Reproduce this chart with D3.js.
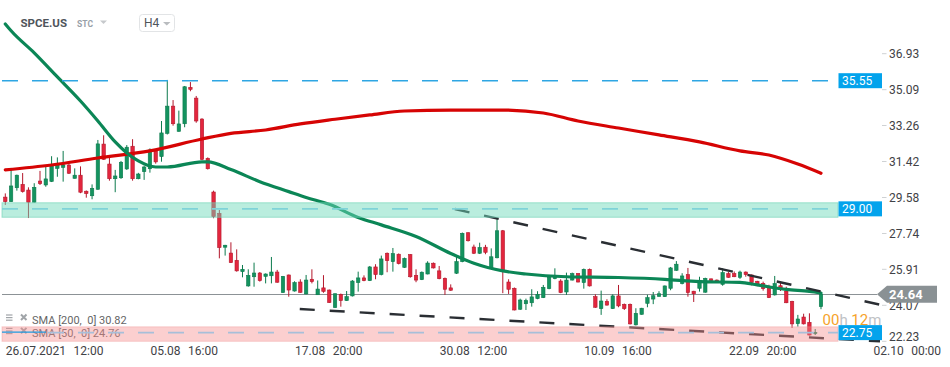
<!DOCTYPE html>
<html><head><meta charset="utf-8">
<script src="https://cdn.jsdelivr.net/npm/d3@7"></script>
<style>
html,body{margin:0;padding:0;background:#fff;}
svg{display:block;font-family:Roboto,"Noto Sans",sans-serif;}
</style></head><body>
<svg id="chart" width="950" height="367"></svg>
<script>
const symbol = "SPCE.US";
const opens = [29.60,29.37,30.08,30.25,29.96,29.34,30.42,30.22,30.40,31.07,31.12,31.24,30.56,30.72,29.90,29.67,30.00,32.31,31.29,30.54,30.59,31.04,32.20,30.54,30.90,31.05,31.96,31.67,32.86,34.25,32.96,33.35,35.21,34.66,33.59,31.58,29.86,28.77,27.04,26.74,26.37,25.79,25.06,25.53,25.72,25.55,25.58,25.77,24.72,25.62,24.80,25.26,24.65,25.40,24.61,24.96,24.85,23.96,24.63,24.31,24.55,25.23,25.47,25.33,26.03,25.64,26.73,26.30,26.68,26.01,26.66,25.60,25.38,25.67,26.22,25.83,25.45,24.96,25.71,26.30,27.78,27.05,26.73,27.04,25.99,26.50,27.88,25.26,24.94,23.87,24.15,24.20,24.41,24.46,24.92,25.43,25.31,24.75,25.36,25.69,25.23,25.91,24.51,23.90,24.27,23.90,24.55,24.12,24.12,23.07,23.61,24.17,24.39,24.53,24.51,24.94,25.86,25.18,25.64,24.79,24.94,24.74,25.42,25.36,25.14,25.69,25.69,25.50,25.77,25.62,25.30,25.19,25.04,24.60,25.07,24.80,24.27,23.13,23.47,23.20,22.68,24.00];
const highs = [29.79,31.09,30.75,30.83,30.10,30.31,30.94,31.19,31.69,31.63,31.96,31.33,31.07,31.17,29.94,30.25,32.52,32.76,31.63,30.99,31.45,32.26,32.56,30.84,31.21,32.09,32.06,33.49,35.59,34.56,34.02,35.28,35.48,34.77,33.63,31.63,29.93,28.94,27.16,27.29,26.93,26.13,25.91,26.25,25.77,25.70,26.54,25.88,25.57,25.64,25.30,25.40,25.62,25.91,25.34,25.61,24.88,24.68,24.67,24.80,25.36,25.79,25.60,26.08,26.17,26.61,26.77,27.00,26.72,26.51,26.69,25.91,25.80,26.32,26.26,26.08,25.49,25.14,26.64,27.79,27.80,27.17,27.27,27.16,26.98,28.52,27.92,25.40,24.98,24.41,24.41,24.89,24.79,25.11,25.62,25.96,25.40,25.74,25.74,25.72,25.95,25.95,24.63,24.82,24.38,24.63,25.11,24.16,24.16,23.92,23.94,24.61,24.75,24.79,25.08,26.03,26.33,25.71,25.98,24.81,25.53,25.48,25.44,25.39,25.96,25.77,25.80,25.84,25.80,25.64,25.32,25.28,25.12,25.57,25.28,25.02,24.30,23.58,23.64,23.66,22.86,24.66];
const lows = [29.20,29.35,29.93,29.83,28.53,29.32,30.22,30.13,30.37,30.64,30.39,30.78,30.55,29.80,29.57,29.49,29.98,31.50,30.44,29.85,30.53,30.99,30.44,30.51,30.48,30.85,31.31,31.41,32.80,33.25,32.95,33.17,35.01,33.40,31.50,31.01,28.52,26.47,26.61,26.24,25.79,25.50,25.02,25.02,25.28,25.19,25.19,25.22,24.71,24.51,24.77,24.71,24.63,25.19,24.60,24.71,24.19,23.93,24.00,24.29,24.52,24.77,25.30,25.31,25.40,25.60,25.76,25.79,26.16,25.98,25.48,25.25,25.36,25.65,25.95,25.40,24.60,24.81,25.67,26.27,27.33,26.69,26.69,26.68,25.96,26.47,24.69,24.65,23.81,23.83,23.83,24.00,24.38,24.44,24.89,25.40,24.69,24.60,25.34,25.24,24.92,25.03,23.94,23.58,24.06,23.88,23.97,23.83,23.09,23.04,23.59,23.97,24.13,24.51,24.50,24.84,25.83,25.14,24.51,24.24,24.77,24.71,25.30,25.25,25.07,25.48,25.51,25.42,25.53,25.09,25.05,24.82,24.44,24.57,24.80,24.18,22.91,22.98,23.09,22.53,22.55,23.87];
const closes = [29.37,30.17,30.72,29.88,29.34,30.10,30.29,30.53,31.23,31.29,31.25,30.82,30.72,29.85,29.78,30.05,32.32,31.53,30.54,30.68,31.38,32.15,30.54,30.78,31.14,32.01,31.40,32.88,34.25,33.35,33.34,35.24,35.11,33.49,31.53,31.05,28.60,27.02,27.14,26.25,25.83,25.91,25.60,25.72,25.33,25.67,25.77,25.25,25.55,24.85,25.23,24.73,25.36,25.28,24.90,24.78,24.21,24.66,24.31,24.51,25.31,25.47,25.33,26.03,25.64,26.44,26.35,26.71,26.20,26.47,25.53,25.36,25.76,26.23,25.98,25.43,24.89,24.84,26.30,27.75,27.37,26.73,27.02,26.78,26.55,27.88,25.86,24.89,23.83,24.34,24.31,24.50,24.63,24.99,25.50,25.57,24.72,25.36,25.69,25.26,25.91,25.06,23.97,24.29,24.08,24.55,24.04,23.90,23.12,23.66,23.92,24.46,24.56,24.66,25.06,25.98,26.17,25.57,24.72,24.66,25.35,25.45,25.33,25.28,25.74,25.50,25.53,25.77,25.64,25.23,25.07,24.92,24.46,25.18,24.90,24.20,23.12,23.37,23.12,22.55,22.68,24.64];

const sma200Idx = [0,8,16,25,34,39,45,51,57,63,69,77,86,93,99,106,113,120,127,132,137,141];
const sma200 = [30.99,31.24,31.60,31.96,32.57,32.86,33.03,33.34,33.58,33.80,34.00,34.05,34.05,33.90,33.49,33.13,32.78,32.42,31.96,31.75,31.29,30.82];
const sma50Idx = [0,1,5,9,13,16,19,21,23,26,28,34,35,39,44,49,52,56,61,65,71,77,81,86,90,97,106,114,120,127,130,135,139,141];
const sma50 = [38.45,38.10,36.97,35.74,34.51,33.49,32.42,31.86,31.45,31.14,31.14,31.40,31.40,31.01,30.39,29.88,29.58,29.23,28.56,28.18,27.59,26.72,26.22,25.83,25.67,25.53,25.49,25.40,25.28,25.24,25.11,24.88,24.78,24.70];
const legendNames = ["SMA [200,\u00a0 0]", "SMA [50,\u00a0 0]"];
const legendValues = ["30.82", "24.76"];

const yTicks = [36.93,35.09,33.26,31.42,29.58,27.74,25.91,24.07,22.23];
const xTickIdx = [0,25,50,75,100,125,150];
const xTickDates = ["26.07.2021","05.08","17.08","30.08","10.09","22.09","02.10"];
const xTickTimes = ["12:00","16:00","20:00","12:00","16:00","20:00","00:00"];

const level1 = 35.55;
const zoneMid = 29.00, zoneTop = 29.31, zoneBottom = 28.57;
const zoneLowMid = 22.75, zoneLowTop = 22.97, zoneLowBottom = 22.23;
const lastPrice = 24.64;
const trendUpper = [[77.7, 28.99],[151.5, 24.08]];
const trendLower = [[50.9, 23.88],[151.2, 22.23]];
const countdown = ["00","h"," 12","m"];
const timeframe = "H4";

const svg = d3.select("#chart");
const x = d3.scaleLinear().domain([0,150]).range([5.3, 873.05]);
const y = d3.scaleLinear().domain([22.23, 36.93]).range([341.3, 53.7]);
const X0 = 2, X1 = 838;

// last price line
svg.append("line").attr("x1",X0).attr("x2",877).attr("y1",Math.round(y(lastPrice))+0.5).attr("y2",Math.round(y(lastPrice))+0.5)
  .attr("stroke","#8c9296").attr("stroke-width",1);

// candles
const data = opens.map((o,i)=>({i,o,h:highs[i],l:lows[i],c:closes[i]}));
const cg = svg.append("g");
const up = d=>d.c>=d.o;
cg.selectAll("line.w").data(data).join("line")
  .attr("x1",d=>x(d.i)).attr("x2",d=>x(d.i))
  .attr("y1",d=>y(d.h)).attr("y2",d=>y(d.l))
  .attr("stroke",d=>up(d)?"#0c7a4d":"#b3182c").attr("stroke-width",1);
cg.selectAll("rect").data(data).join("rect")
  .attr("x",d=>x(d.i)-1.7).attr("width",3.4)
  .attr("y",d=>y(Math.max(d.o,d.c)))
  .attr("height",d=>Math.max(1,Math.abs(y(d.o)-y(d.c))))
  .attr("fill",d=>up(d)?"#14935f":"#e3263e")
  .attr("stroke",d=>up(d)?"#0c7a4d":"#b3182c").attr("stroke-width",0.6);

// SMA lines
const line = d3.line().x(d=>x(d[0])).y(d=>y(d[1])).curve(d3.curveMonotoneX);
svg.append("path").attr("d",line(sma200Idx.map((k,j)=>[k,sma200[j]])))
  .attr("fill","none").attr("stroke","#d60404").attr("stroke-width",3.2).attr("stroke-linecap","round");
svg.append("path").attr("d",line(sma50Idx.map((k,j)=>[k,sma50[j]])))
  .attr("fill","none").attr("stroke","#0b8656").attr("stroke-width",3.2).attr("stroke-linecap","round");

// trend lines
[trendUpper, trendLower].forEach(t=>{
  svg.append("line").attr("x1",x(t[0][0])).attr("y1",y(t[0][1])).attr("x2",x(t[1][0])).attr("y2",y(t[1][1]))
    .attr("stroke","#2a2e33").attr("stroke-width",2.4).attr("stroke-dasharray","15,15");
});

// legend
const lg = svg.append("g");
legendNames.forEach((nm,k)=>{
  const by = 324 + k*13.4;
  const g = lg.append("g");
  for(let r=0;r<3;r++) g.append("line").attr("x1",6).attr("x2",12.5).attr("y1",by-9+r*2.6).attr("y2",by-9+r*2.6).attr("stroke","#a0a4a8").attr("stroke-width",1.2);
  g.append("path").attr("d",`M21,${by-9.5}L26.5,${by-4}M26.5,${by-9.5}L21,${by-4}`).attr("stroke","#a0a4a8").attr("stroke-width",2);
  g.append("text").attr("x",32).attr("y",by).attr("font-size",11).attr("fill","#666")
    .text(nm+" "+legendValues[k]);
});

// zones
svg.append("rect").attr("x",X0).attr("width",X1-X0).attr("y",y(zoneTop)).attr("height",y(zoneBottom)-y(zoneTop))
  .attr("fill","rgba(110,218,185,0.48)").attr("stroke","rgba(110,210,180,0.6)").attr("stroke-width",1);
svg.append("line").attr("x1",X0).attr("x2",X1).attr("y1",y(zoneMid)).attr("y2",y(zoneMid))
  .attr("stroke","#7fd3d8").attr("stroke-width",1.6).attr("stroke-dasharray","16,14");
svg.append("rect").attr("x",X0).attr("width",X1-X0).attr("y",y(zoneLowTop)).attr("height",y(zoneLowBottom)-y(zoneLowTop))
  .attr("fill","rgba(245,140,140,0.42)").attr("stroke","rgba(240,150,150,0.4)").attr("stroke-width",1);
svg.append("line").attr("x1",48).attr("x2",X1).attr("y1",y(zoneLowMid)+1.5).attr("y2",y(zoneLowMid)+1.5)
  .attr("stroke","#a7bfd9").attr("stroke-width",1.6).attr("stroke-dasharray","16,14");
svg.append("line").attr("x1",X0).attr("x2",46).attr("y1",y(zoneLowMid)+1).attr("y2",y(zoneLowMid)+1)
  .attr("stroke","#1f9be0").attr("stroke-width",1.2);

// 35.55 level
svg.append("line").attr("x1",X0).attr("x2",X1).attr("y1",y(level1)).attr("y2",y(level1))
  .attr("stroke","#2ea6e3").attr("stroke-width",1.4).attr("stroke-dasharray","16,14");

// y axis
const ya = svg.append("g");
yTicks.forEach(v=>{
  const yy = Math.min(y(v), 337);
  ya.append("line").attr("x1",882).attr("x2",886.5).attr("y1",y(v)).attr("y2",y(v)).attr("stroke","#cfd2d4");
  ya.append("text").attr("x",889).attr("y",yy+4.3).attr("font-size",12).attr("fill","#3f4246").text(v.toFixed(2));
});

// countdown
const ct = svg.append("text").attr("x",822.5).attr("y",325.3).attr("font-size",15);
const ccol = ["#f6a32c","#bfc2c5","#f6a32c","#bfc2c5"];
countdown.forEach((s,k)=>ct.append("tspan").attr("fill",ccol[k]).text(s.replace(" ","\u00a0")));

// level labels
[[level1,0],[zoneMid,0],[zoneLowMid,1.5]].forEach(([v,off])=>{
  const cy = y(v)+off;
  svg.append("rect").attr("x",838.5).attr("y",cy-7.5).attr("width",43.5).attr("height",15).attr("fill","#03a3ec");
  svg.append("text").attr("x",842).attr("y",cy+4.3).attr("font-size",12).attr("fill","#fff").text(v.toFixed(2));
});

// x axis
xTickIdx.forEach((k,j)=>{
  const t = svg.append("text").attr("x",x(k)+0.5).attr("y",354.5).attr("font-size",12).attr("fill","#3f4246").text(xTickDates[j]);
  const w = t.node().getComputedTextLength();
  svg.append("text").attr("x",x(k)+0.5+w+7.5).attr("y",354.5).attr("font-size",12).attr("fill","#3f4246").text(xTickTimes[j]);
});

// price tag
const py = y(lastPrice);
svg.append("path").attr("d",`M877,${py}L887,${py-8.5}L937,${py-8.5}L937,${py+8.5}L887,${py+8.5}Z`).attr("fill","#8a9194");
svg.append("text").attr("x",889).attr("y",py+4.6).attr("font-size",13).attr("font-weight","bold").attr("fill","#fff").text(lastPrice.toFixed(2));

// header
svg.append("text").attr("x",20.5).attr("y",26.5).attr("font-size",11.5).attr("font-weight","bold").attr("fill","#4f555b").text(symbol);
svg.append("text").attr("x",77).attr("y",27).attr("font-size",8.5).attr("font-weight","bold").attr("fill","#98a0a8").text("STC");
svg.append("path").attr("d","M100,20.5L107,20.5L103.5,24Z").attr("fill","#c6c9cc");
svg.append("rect").attr("x",139.5).attr("y",14.5).attr("width",35).attr("height",17).attr("rx",3).attr("fill","#fff").attr("stroke","#e2e4e6");
svg.append("text").attr("x",144).attr("y",27).attr("font-size",12).attr("fill","#4f555b").text(timeframe);
svg.append("path").attr("d","M163,22L170.5,22L166.75,25.5Z").attr("fill","#b9bcbf");
</script>
</body></html>
